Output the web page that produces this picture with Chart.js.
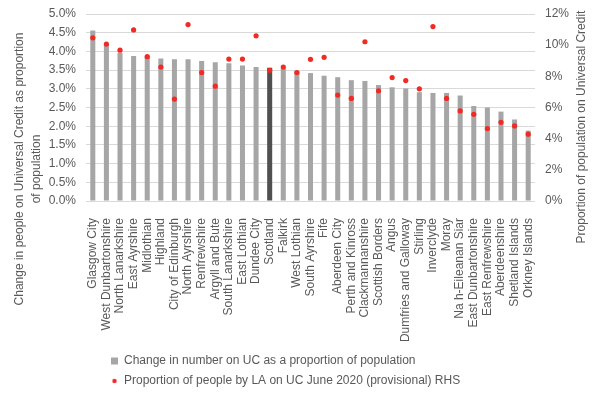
<!DOCTYPE html>
<html>
<head>
<meta charset="utf-8">
<script src="https://cdn.jsdelivr.net/npm/chart.js@4"></script>
<style>
  body { margin: 0; background: #fff; }
  canvas { display: block; }
</style>
</head>
<body>
<canvas id="ucChart" width="600" height="394"></canvas>
<script>
// local authorities, ordered as in the chart
const areas = ['Glasgow City', 'West Dunbartonshire', 'North Lanarkshire', 'East Ayrshire', 'Midlothian', 'Highland',
  'City of Edinburgh', 'North Ayrshire', 'Renfrewshire', 'Argyll and Bute', 'South Lanarkshire', 'East Lothian',
  'Dundee City', 'Scotland', 'Falkirk', 'West Lothian', 'South Ayrshire', 'Fife', 'Aberdeen City', 'Perth and Kinross',
  'Clackmannanshire', 'Scottish Borders', 'Angus', 'Dumfries and Galloway', 'Stirling', 'Inverclyde', 'Moray',
  'Na h-Eileanan Siar', 'East Dunbartonshire', 'East Renfrewshire', 'Aberdeenshire', 'Shetland Islands', 'Orkney Islands'];

// change in number on UC as % of population (left axis)
const changeValues = [4.56, 4.20, 3.96, 3.88, 3.87, 3.81, 3.79, 3.79, 3.74, 3.71, 3.68, 3.62,
  3.58, 3.56, 3.54, 3.48, 3.42, 3.35, 3.31, 3.23, 3.21, 3.10, 3.04, 3.01, 2.91, 2.89, 2.89,
  2.82, 2.54, 2.50, 2.39, 2.18, 1.88];

// proportion of people on UC June 2020 (right axis)
const proportionValues = [10.47, 10.07, 9.68, 10.98, 9.26, 8.60, 6.54, 11.32, 8.24, 7.37, 9.11, 9.11,
  10.60, 8.39, 8.60, 8.24, 9.09, 9.22, 6.80, 6.58, 10.22, 7.07, 7.92, 7.73, 7.20, 11.19, 6.58,
  5.78, 5.56, 4.65, 5.05, 4.82, 4.29];

const seriesNames = ['Change in number on UC as a proportion of population',
  'Proportion of people by LA on UC June 2020 (provisional) RHS'];
const leftTitle = ['Change in people on Universal Credit as proportion', 'of population'];
const rightTitle = 'Proportion of population on Universal Credit';

const textColor = '#595959';
const barGrey = '#a6a6a6';
const barDark = '#505050';
const dotRed = '#f02a24';
const fontFamily = '"Liberation Sans", Arial, sans-serif';

const barColors = areas.map(a => a === 'Scotland' ? barDark : barGrey);

// small red dot for the legend
const dotImg = document.createElement('canvas');
dotImg.width = 6;
dotImg.height = 6;
const dctx = dotImg.getContext('2d');
dctx.fillStyle = dotRed;
dctx.beginPath();
dctx.arc(3, 3, 2.2, 0, Math.PI * 2);
dctx.fill();

// move the legend rows in a bit, like the original
const legendShift = {
  id: 'legendShift',
  afterLayout(chart) {
    chart.legend.left += 17;
    chart.legend.top += 3;
  }
};

// axis titles are centred on plot + labels in the original, so draw them here
const axisTitles = {
  id: 'axisTitles',
  afterDraw(chart) {
    const ctx = chart.ctx;
    ctx.save();
    ctx.font = '12px ' + fontFamily;
    ctx.fillStyle = textColor;
    ctx.textAlign = 'center';
    ctx.textBaseline = 'middle';
    leftTitle.forEach((line, i) => {
      ctx.save();
      ctx.translate(20 + i * 17, 169);
      ctx.rotate(-Math.PI / 2);
      ctx.fillText(line, 0, 0);
      ctx.restore();
    });
    ctx.translate(582, 127);
    ctx.rotate(-Math.PI / 2);
    ctx.fillText(rightTitle, 0, 0);
    ctx.restore();
  }
};

function fixSide(width) {
  return scale => {
    scale.width = width;
    scale.paddingTop = 14;
  };
}

Chart.defaults.font.family = fontFamily;
Chart.defaults.font.size = 12;
Chart.defaults.color = textColor;

new Chart(document.getElementById('ucChart'), {
  type: 'bar',
  data: {
    labels: areas,
    datasets: [{
      type: 'bar',
      label: seriesNames[0],
      data: changeValues,
      backgroundColor: barColors,
      yAxisID: 'y',
      categoryPercentage: 1,
      barPercentage: 0.37,
      order: 1
    }, {
      type: 'line',
      label: seriesNames[1],
      data: proportionValues,
      yAxisID: 'y1',
      showLine: false,
      pointRadius: 2.6,
      pointBackgroundColor: dotRed,
      pointBorderWidth: 0,
      borderColor: dotRed,
      order: 0
    }]
  },
  options: {
    responsive: false,
    animation: false,
    layout: { padding: 0 },
    plugins: {
      tooltip: { enabled: false },
      legend: {
        position: 'bottom',
        align: 'start',
        fullSize: false,
        labels: {
          usePointStyle: true,
          boxWidth: 7,
          boxHeight: 7,
          padding: 8,
          color: textColor,
          generateLabels(chart) {
            return chart.data.datasets.map((ds, i) => ({
              text: ds.label,
              fillStyle: i === 0 ? barGrey : dotRed,
              strokeStyle: i === 0 ? barGrey : dotRed,
              lineWidth: 0,
              pointStyle: i === 0 ? 'rect' : dotImg,
              hidden: false,
              datasetIndex: i,
              fontColor: textColor
            }));
          }
        }
      }
    },
    scales: {
      x: {
        grid: { display: false },
        border: { display: false },
        ticks: { autoSkip: false, minRotation: 90, maxRotation: 90, padding: 9 },
        afterFit(scale) { scale.height = 143; }
      },
      y: {
        position: 'left',
        min: 0,
        max: 5,
        ticks: { stepSize: 0.5, padding: 10, callback: v => v.toFixed(1) + '%' },
        grid: { color: '#d9d9d9', drawTicks: false },
        border: { display: false },
        afterFit: fixSide(86)
      },
      y1: {
        position: 'right',
        min: 0,
        max: 12,
        ticks: { stepSize: 2, padding: 10, callback: v => v + '%' },
        grid: { drawOnChartArea: false, drawTicks: false },
        border: { display: false },
        afterFit: fixSide(65)
      }
    }
  },
  plugins: [legendShift, axisTitles]
});
</script>
</body>
</html>
